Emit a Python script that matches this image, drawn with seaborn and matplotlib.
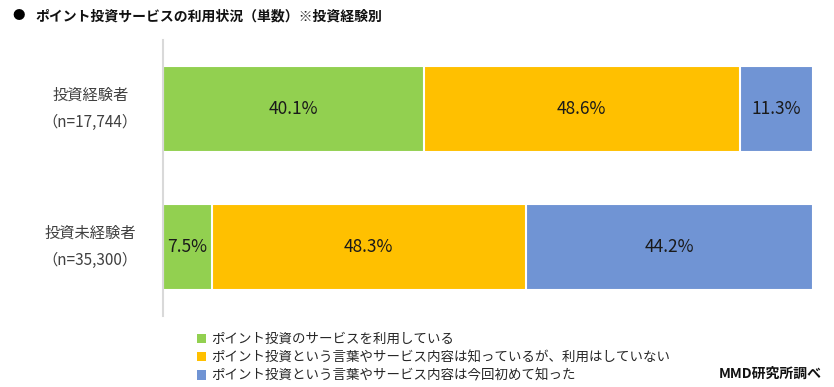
import numpy as np
import pandas as pd
import matplotlib
matplotlib.use("Agg")
import matplotlib.pyplot as plt
from matplotlib.patches import Patch
import seaborn as sns

# データ
groups = ["投資経験者\n（n=17,744）", "投資未経験者\n（n=35,300）"]
used = [40.1, 7.5]        # ポイント投資のサービスを利用している
known = [48.6, 48.3]      # 知っているが、利用はしていない
new = [11.3, 44.2]        # 今回初めて知った
series_names = [
    "ポイント投資のサービスを利用している",
    "ポイント投資という言葉やサービス内容は知っているが、利用はしていない",
    "ポイント投資という言葉やサービス内容は今回初めて知った",
]
colors = ["#92D050", "#FFC000", "#7094D4"]

sns.set_theme(style="white")
plt.rcParams["font.family"] = ["Noto Sans CJK JP", "DejaVu Sans"]

df = pd.DataFrame({"group": groups, "used": used, "known": known, "new": new})
vals = df[["used", "known", "new"]].to_numpy()
cum = vals.cumsum(axis=1)

fig = plt.figure(figsize=(8.34, 3.87), dpi=100)
ax = fig.add_axes([163 / 834, 1 - 316 / 387, 650 / 834, 276 / 387])

# 積み上げ: 右側（累計）から描画
for i in range(2, -1, -1):
    sns.barplot(x=cum[:, i], y=df["group"], orient="h", color=colors[i],
                width=0.62, edgecolor="white", linewidth=1.5, saturation=1, ax=ax)

# 数値ラベル
for r in range(len(groups)):
    for i in range(3):
        center = cum[r, i] - vals[r, i] / 2
        ax.text(center, r, f"{vals[r, i]:.1f}%", ha="center", va="center",
                fontsize=12.5, color="#1a1a1a")

ax.set_xlim(0, 100)
ax.set_ylim(1.5, -0.5)
ax.set_xlabel("")
ax.set_ylabel("")
ax.set_xticks([])
ax.set_yticklabels([])
ax.tick_params(axis="y", length=0)

# カテゴリ名（中央揃えの2行）
for r, g in enumerate(groups):
    ax.text(-0.112, r, g, transform=ax.get_yaxis_transform(),
            ha="center", va="center", multialignment="center",
            linespacing=1.75, fontsize=11, color="#404040")

for s in ["top", "right", "bottom"]:
    ax.spines[s].set_visible(False)
ax.spines["left"].set_color("#D9D9D9")
ax.spines["left"].set_linewidth(1.5)

# タイトル
fig.text(12 / 834, 1 - 16 / 387, "●", fontsize=9, va="center", color="black")
fig.text(35 / 834, 1 - 16 / 387, "ポイント投資サービスの利用状況（単数）※投資経験別",
         fontsize=10, fontweight="bold", va="center", color="#111111")

# 凡例
handles = [Patch(facecolor=c, edgecolor="none") for c in colors]
fig.legend(handles, series_names, loc="upper left",
           bbox_to_anchor=(197 / 834, 1 - 332 / 387), frameon=False,
           fontsize=9.7, handlelength=0.7, handleheight=0.7,
           handletextpad=0.35, labelspacing=0.32, borderpad=0,
           borderaxespad=0, labelcolor="#262626")

fig.text(822 / 834, 1 - 374 / 387, "MMD研究所調べ", ha="right", va="center",
         fontsize=10, fontweight="bold", color="#111111")

fig.savefig("out.png", dpi=100)
